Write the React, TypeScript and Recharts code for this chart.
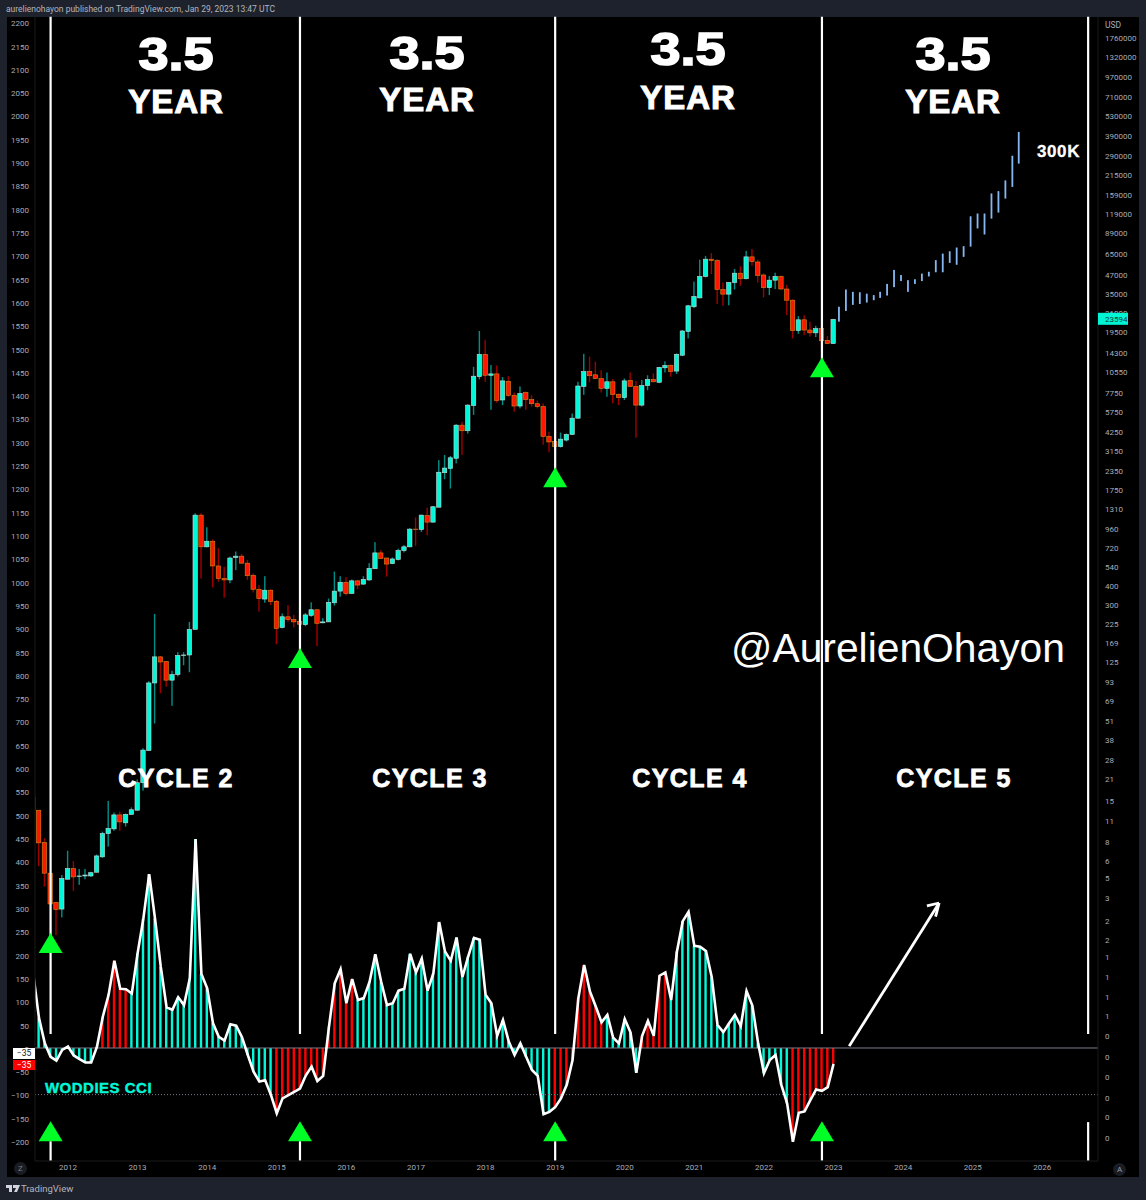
import React from "react";
import { ComposedChart, Bar, Line, XAxis, YAxis, ReferenceLine, ReferenceDot } from "recharts";

// Month index: 0 = Jan 2012. Price values are read in the left-hand scale units.
const firstMonth = -6;
const opens = [537,510,441,375,312,298,362,385,368,369,369,377,410,460,470,500,483,501,510,569,638,783,839,829,789,801,842,843,898,1143,1075,1087,1034,1007,1004,1052,1055,1040,1014,984,963,982,958,902,925,919,915,908,928,940,912,914,955,980,999,975,1002,995,1004,1028,1062,1051,1039,1048,1067,1075,1113,1112,1142,1128,1160,1234,1243,1265,1336,1324,1378,1440,1488,1443,1446,1390,1430,1400,1377,1406,1391,1382,1376,1312,1301,1290,1304,1316,1351,1419,1451,1444,1436,1415,1429,1402,1395,1432,1419,1379,1421,1434,1428,1459,1464,1452,1486,1537,1590,1609,1655,1692,1689,1627,1617,1642,1662,1650,1697,1686,1658,1631,1647,1655,1628,1604,1539,1562,1540,1534,1543,1518,1511];
const highs = [537,510,450,375,314,371,423,401,384,384,378,415,464,530,505,507,503,516,576,643,787,931,841,830,809,849,849,914,1147,1147,1117,1091,1072,1032,1054,1065,1060,1047,1018,993,1012,984,961,932,950,929,923,933,956,941,922,964,1022,1012,1010,1005,1004,1012,1040,1085,1068,1052,1052,1071,1079,1115,1138,1144,1159,1162,1261,1272,1270,1338,1343,1381,1461,1538,1519,1465,1464,1439,1441,1406,1419,1408,1400,1389,1383,1322,1317,1320,1318,1361,1429,1489,1483,1472,1454,1449,1435,1404,1436,1449,1431,1433,1443,1447,1461,1473,1466,1490,1540,1594,1644,1691,1699,1705,1692,1642,1643,1671,1677,1710,1714,1691,1662,1656,1663,1657,1637,1606,1570,1572,1558,1549,1549,1527,1564];
const lows = [508,390,346,246,242,280,362,337,350,362,367,377,408,432,466,466,475,501,510,552,638,696,761,775,734,797,821,806,898,1007,1074,988,1000,966,997,1025,1039,1004,977,936,955,950,866,900,914,902,909,905,925,862,911,914,949,968,971,975,984,994,1002,1028,1049,1011,1038,1046,1063,1074,1077,1107,1100,1127,1160,1220,1200,1254,1272,1318,1358,1434,1429,1369,1384,1379,1397,1365,1372,1369,1376,1372,1294,1278,1281,1288,1301,1315,1350,1401,1428,1435,1406,1397,1383,1379,1390,1418,1309,1376,1411,1428,1426,1449,1440,1446,1484,1522,1587,1608,1653,1660,1596,1592,1593,1627,1635,1649,1678,1642,1610,1615,1628,1627,1572,1522,1532,1529,1526,1525,1504,1510,1510];
const closes = [510,440,375,309,297,364,385,367,369,371,376,412,460,471,500,485,501,511,569,639,783,839,828,789,801,842,843,898,1143,1075,1087,1034,1007,1004,1051,1055,1040,1013,984,964,982,958,900,925,919,914,909,929,940,911,914,956,980,999,975,1002,993,1005,1029,1062,1050,1038,1049,1067,1075,1113,1112,1143,1128,1161,1235,1244,1266,1336,1324,1379,1441,1488,1443,1446,1389,1431,1400,1377,1404,1391,1382,1376,1312,1300,1290,1306,1316,1351,1420,1451,1442,1436,1415,1429,1402,1395,1431,1419,1379,1421,1434,1429,1460,1464,1451,1488,1538,1592,1612,1655,1692,1689,1627,1617,1642,1662,1650,1697,1687,1657,1631,1647,1655,1628,1604,1539,1562,1540,1534,1543,1517,1511,1563];
const cciValues = [160,64,10,-19,-27,-4,3,-16,-24,-31,-31,3,67,114,187,127,126,117,203,278,373,278,174,87,82,109,92,149,448,159,128,53,24,16,51,48,23,-15,-51,-72,-69,-101,-140,-108,-101,-94,-87,-59,-40,-71,-60,46,139,169,96,148,103,107,142,201,142,92,96,123,127,202,162,192,123,160,270,207,187,237,152,196,236,232,114,96,26,60,14,-15,10,-19,-47,-60,-142,-137,-127,-108,-79,-26,107,178,121,89,55,71,22,10,62,33,-53,26,58,26,155,162,103,207,272,292,219,217,208,152,49,34,53,71,47,122,91,10,-54,-26,-15,-79,-119,-201,-139,-136,-112,-89,-92,-84,-34];
const redMonthRanges = [[6,10],[36,49],[84,92],[99,103],[125,132]];

const projMonths = [133.0,134.2,135.4,136.6,137.8,139.0,140.1,141.3,142.5,143.7,144.9,146.1,147.3,148.5,149.7,150.9,152.1,153.3,154.5,155.7,156.9,158.1,159.3,160.5,161.7,162.9,164.0];
const projHighs = [1590,1627,1622,1621,1618,1615,1622,1639,1669,1658,1647,1649,1661,1665,1690,1704,1709,1717,1720,1784,1790,1790,1833,1838,1861,1914,1965];
const projLows = [1558,1581,1594,1596,1599,1604,1609,1614,1632,1645,1622,1639,1645,1655,1664,1664,1684,1680,1697,1719,1758,1745,1779,1792,1822,1847,1897];

const yearMonths = [0,12,24,36,48,60,72,84,96,108,120,132,144,156,168];
const yearLabels = ["2012","2013","2014","2015","2016","2017","2018","2019","2020","2021","2022","2023","2024","2025","2026"];
const leftTicks = [-200,-150,-100,-50,0,50,100,150,200,250,300,350,400,450,500,550,600,650,700,750,800,850,900,950,1000,1050,1100,1150,1200,1250,1300,1350,1400,1450,1500,1550,1600,1650,1700,1750,1800,1850,1900,1950,2000,2050,2100,2150,2200];
const usdTicks = [1760000,1320000,970000,710000,530000,390000,290000,215000,159000,119000,89000,65000,47000,35000,26000,19500,14300,10550,7750,5750,4250,3150,2350,1750,1310,960,720,540,400,300,225,169,125,93,69,51,38,28,21,15,11,8,6,4.6,3.4,2.4,1.8,1.37,1.01,0.75,0.56,0.41,0.3,0.22,0.16,0.12,0.086];
const lastPrice = 23594;

const cycleMonths = [-3,40,84,130];
const lineTopValue = 2212;
const lineGapTop = 30;
const lineGapBottom = -200;
const axisBottomValue = -242;
const endLineMonth = 175.9;
const endLineGapBottom = -159;
const priceTriangles = [[-3,204],[40,815],[84,1203],[130,1439]];
const cciTriangleValue = -200;
const arrowShaft = [[134.7,4],[150.2,311]];
const arrowHeadA = [[150.2,311],[148.1,305]];
const arrowHeadB = [[150.2,311],[149.6,282]];
const domainX: [number, number] = [-5.69,177.6];
const domainY: [number, number] = [-242.4,2211.5];
const domainUsd: [number, number] = [0.06,2386000];

const cycleHeads = [
  { x: 176, y3: 53, yy: 101 },
  { x: 427, y3: 52, yy: 99 },
  { x: 688, y3: 48, yy: 97 },
  { x: 953, y3: 53, yy: 101 },
];
const cycleNames = [
  { t: "CYCLE 2", x: 176 },
  { t: "CYCLE 3", x: 430 },
  { t: "CYCLE 4", x: 690 },
  { t: "CYCLE 5", x: 954 },
];

const TEAL = "#00f7d8";
const RED = "#ff1500";
const AXIS_FONT = "Roboto, sans-serif";
const isRed = (t: number) => redMonthRanges.some(([a, b]) => t >= a && t <= b);

const monthly = opens.map((o, i) => ({
  t: firstMonth + i,
  open: o,
  high: highs[i],
  low: lows[i],
  close: closes[i],
  cci: cciValues[i],
  red: isRed(firstMonth + i),
}));
const projected = projMonths.map((t, i) => ({ t, pHigh: projHighs[i], pLow: projLows[i] }));
const data: any[] = [...monthly, ...projected];

const WickShape = (p: any) => {
  if (!p.payload || p.payload.open == null) return null;
  const up = p.payload.close >= p.payload.open;
  return <rect x={p.x - 0.2} y={p.y} width={1.4} height={p.height} fill={up ? "#008f88" : "#a00000"} />;
};
const BodyShape = (p: any) => {
  if (!p.payload || p.payload.open == null) return null;
  const up = p.payload.close >= p.payload.open;
  return (
    <rect
      x={p.x + 0.3}
      y={p.y}
      width={Math.max(p.width - 0.6, 1)}
      height={Math.max(p.height, 0.5)}
      fill={up ? TEAL : RED}
      stroke={up ? "#c8d8d4" : "#c89018"}
      strokeWidth={0.6}
    />
  );
};
const HistShape = (p: any) => {
  if (!p.payload || p.payload.cci == null) return null;
  const h = p.height;
  return <rect x={p.x + 0.3} y={h < 0 ? p.y + h : p.y} width={2.4} height={Math.abs(h)} fill={p.payload.red ? "#ff0000" : TEAL} />;
};
const ProjShape = (p: any) => {
  if (!p.payload || p.payload.pHigh == null) return null;
  return <rect x={p.x - 0.4} y={p.y} width={1.8} height={p.height} fill="#85b8f2" />;
};
const Triangle = (p: any) => (
  <polygon points={`${p.cx - 12},${p.cy} ${p.cx + 12},${p.cy} ${p.cx},${p.cy - 20}`} fill="#00ff26" />
);
const UsdTick = (p: any) => {
  const v = p.payload.value;
  if (v === lastPrice) {
    return (
      <g>
        <rect x={p.x - 8} y={p.y - 6} width={30} height={12} fill="#00f5d4" />
        <text x={p.x - 1} y={p.y + 3} fontSize={8} fill="#0a3d36" fontFamily={AXIS_FONT}>{v}</text>
      </g>
    );
  }
  return (
    <text x={p.x - 1} y={p.y + 4} fontSize={8} fill="#a9acb6" fontFamily={AXIS_FONT}>
      {Math.round(v)}
    </text>
  );
};
const centered = (x: number, y: number, size: number, extra: any = {}): React.CSSProperties => ({
  position: "absolute",
  left: x,
  top: y,
  transform: "translate(-50%,-50%)",
  fontFamily: "'Liberation Sans', Arial, sans-serif",
  fontWeight: 700,
  fontSize: size,
  lineHeight: 1,
  color: "#fff",
  whiteSpace: "nowrap",
  ...extra,
});
const hiddenX = (id: string) => (
  <XAxis xAxisId={id} dataKey="t" type="number" domain={domainX} allowDataOverflow hide height={0} />
);
const seg = (pts: number[][], key: string, width: number) => (
  <ReferenceLine
    key={key}
    xAxisId="main"
    yAxisId="left"
    segment={[{ x: pts[0][0], y: pts[0][1] }, { x: pts[1][0], y: pts[1][1] }]}
    stroke="#fff"
    strokeWidth={width}
    ifOverflow="visible"
  />
);

export default function App() {
  return (
    <div style={{ position: "absolute", left: 0, top: 0, width: 1146, height: 1200, background: "#1e222d", overflow: "hidden" }}>
      <div style={{ position: "absolute", left: 7, top: 17, width: 1132, height: 1160, background: "#000" }} />
      <ComposedChart
        width={1146}
        height={1200}
        data={data}
        barGap={0}
        margin={{ top: 17, right: 7, bottom: 23, left: 7 }}
        style={{ position: "absolute", left: 0, top: 0 }}
      >
        <XAxis
          xAxisId="main"
          dataKey="t"
          type="number"
          domain={domainX}
          allowDataOverflow
          ticks={yearMonths}
          interval={0}
          height={16}
          tickFormatter={(v: number) => yearLabels[yearMonths.indexOf(v)]}
          tick={{ fontSize: 8, fill: "#a9acb6", fontFamily: AXIS_FONT }}
          tickLine={false}
          tickSize={0}
          axisLine={{ stroke: "#1a1a1a" }}
          tickMargin={3}
        />
        {hiddenX("wick")}
        {hiddenX("body")}
        {hiddenX("proj")}
        <YAxis
          yAxisId="left"
          orientation="left"
          type="number"
          width={28}
          domain={domainY}
          allowDataOverflow
          ticks={leftTicks}
          interval={0}
          tickFormatter={(v: number) => (v < 0 ? "\u2212" + Math.abs(v) : String(v))}
          tick={{ fontSize: 8, fill: "#a9acb6", fontFamily: AXIS_FONT, dy: 1 }}
          tickLine={false}
          axisLine={{ stroke: "#1a1a1a" }}
          tickMargin={0}
        />
        <YAxis
          yAxisId="usd"
          orientation="right"
          type="number"
          scale="log"
          width={41}
          domain={domainUsd}
          allowDataOverflow
          ticks={[...usdTicks, lastPrice]}
          interval={0}
          tick={UsdTick}
          tickLine={false}
          axisLine={{ stroke: "#1a1a1a" }}
        />
        <ReferenceLine xAxisId="main" yAxisId="left" y={-100} stroke="#787b86" strokeDasharray="1 2" strokeWidth={1} />

        <Bar xAxisId="main" yAxisId="left" dataKey="cci" barSize={3} shape={HistShape} isAnimationActive={false} />
        <ReferenceLine xAxisId="main" yAxisId="left" y={0} stroke="#787b86" strokeWidth={1} />
        <Bar
          xAxisId="wick"
          yAxisId="left"
          dataKey={(d: any) => (d.low == null ? null : [d.low, d.high])}
          barSize={1}
          shape={WickShape}
          isAnimationActive={false}
        />
        <Bar
          xAxisId="body"
          yAxisId="left"
          dataKey={(d: any) => (d.open == null ? null : [Math.min(d.open, d.close), Math.max(d.open, d.close)])}
          barSize={5}
          shape={BodyShape}
          isAnimationActive={false}
        />
        <Bar
          xAxisId="proj"
          yAxisId="left"
          dataKey={(d: any) => (d.pLow == null ? null : [d.pLow, d.pHigh])}
          barSize={1}
          shape={ProjShape}
          isAnimationActive={false}
        />
        <Line
          xAxisId="main"
          yAxisId="left"
          dataKey="cci"
          type="linear"
          stroke="#ffffff"
          strokeWidth={2.6}
          dot={false}
          activeDot={false}
          connectNulls={false}
          isAnimationActive={false}
        />

        {cycleMonths.map((m) => seg([[m, lineTopValue], [m, lineGapTop]], "u" + m, 2.2))}
        {cycleMonths.map((m) => seg([[m, lineGapBottom], [m, axisBottomValue]], "l" + m, 2.2))}
        {seg([[endLineMonth, lineTopValue], [endLineMonth, lineGapTop]], "endu", 2.2)}
        {seg([[endLineMonth, endLineGapBottom], [endLineMonth, axisBottomValue]], "endl", 2.2)}
        {seg(arrowShaft, "arrow", 2.8)}
        {seg(arrowHeadA, "headA", 2.8)}
        {seg(arrowHeadB, "headB", 2.8)}

        {priceTriangles.map(([m, v]) => (
          <ReferenceDot key={"p" + m} xAxisId="main" yAxisId="left" x={m} y={v} shape={Triangle} ifOverflow="visible" />
        ))}
        {cycleMonths.map((m) => (
          <ReferenceDot key={"c" + m} xAxisId="main" yAxisId="left" x={m} y={cciTriangleValue} shape={Triangle} ifOverflow="visible" />
        ))}
      </ComposedChart>

      <div style={{ position: "absolute", left: 6, top: 4, fontFamily: AXIS_FONT, fontSize: 8.5, color: "#b2b5be", whiteSpace: "nowrap" }}>
        aurelienohayon published on TradingView.com, Jan 29, 2023 13:47 UTC
      </div>
      <div style={{ position: "absolute", left: 1105, top: 20, fontFamily: AXIS_FONT, fontSize: 8.5, color: "#a9acb6" }}>USD</div>

      {cycleHeads.map((h) => (
        <React.Fragment key={h.x}>
          <div style={centered(h.x, h.y3, 47, { WebkitTextStroke: "1.6px #fff", transform: "translate(-50%,-50%) scaleX(1.15)" })}>3.5</div>
          <div style={centered(h.x, h.yy, 33, { WebkitTextStroke: "1px #fff", letterSpacing: 1 })}>YEAR</div>
        </React.Fragment>
      ))}
      {cycleNames.map((c) => (
        <div key={c.t} style={centered(c.x, 778, 25, { letterSpacing: 1.4, WebkitTextStroke: "0.8px #fff" })}>{c.t}</div>
      ))}
      <div style={centered(1058.5, 151, 17, { letterSpacing: 0.6, WebkitTextStroke: "0.3px #fff" })}>300K</div>
      <div style={centered(898, 648, 40.8, { fontWeight: 400 })}>@AurelienOhayon</div>
      <div style={centered(98.5, 1087, 15, { color: TEAL, letterSpacing: 0.5, WebkitTextStroke: `0.4px ${TEAL}` })}>WODDIES CCI</div>

      <div style={{ position: "absolute", left: 13, top: 1048, width: 22, height: 11, background: "#fff", color: "#131722", fontFamily: AXIS_FONT, fontSize: 8.5, textAlign: "center", lineHeight: "11px" }}>−35</div>
      <div style={{ position: "absolute", left: 13, top: 1060, width: 22, height: 10, background: "#f00", color: "#fff", fontFamily: AXIS_FONT, fontSize: 8.5, textAlign: "center", lineHeight: "10px" }}>−35</div>

      <div style={{ position: "absolute", left: 14, top: 1162, width: 13, height: 13, borderRadius: 7, background: "#1a1c24", color: "#787b86", fontFamily: AXIS_FONT, fontSize: 8, textAlign: "center", lineHeight: "13px" }}>Z</div>
      <div style={{ position: "absolute", left: 1113, top: 1163, width: 13, height: 13, borderRadius: 7, background: "#1a1c24", color: "#9a9da8", fontFamily: AXIS_FONT, fontSize: 8, textAlign: "center", lineHeight: "13px" }}>A</div>

      <svg width={14} height={8} style={{ position: "absolute", left: 6, top: 1185 }}>
        <path d="M0 0H6V7H3V3H0Z M7 0H14L11 7H8L10 3H7Z" fill="#d1d4dc" />
      </svg>
      <div style={{ position: "absolute", left: 21, top: 1183, fontFamily: AXIS_FONT, fontSize: 9.5, color: "#b2b5be" }}>TradingView</div>
    </div>
  );
}
